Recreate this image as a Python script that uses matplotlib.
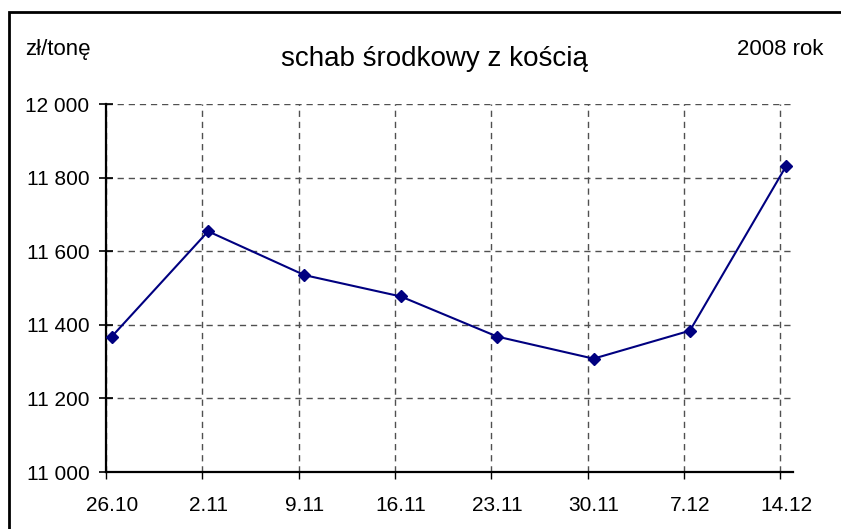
import matplotlib
matplotlib.use("Agg")
import matplotlib.pyplot as plt
from matplotlib.patches import Rectangle
import numpy as np

dates = ["26.10", "2.11", "9.11", "16.11", "23.11", "30.11", "7.12", "14.12"]
prices = [11368, 11654, 11535, 11477, 11368, 11308, 11384, 11832]
yticks = [11000, 11200, 11400, 11600, 11800, 12000]
ytick_labels = ["11 000", "11 200", "11 400", "11 600", "11 800", "12 000"]

plt.rcParams['font.family'] = ['Liberation Sans', 'DejaVu Sans']

fig = plt.figure(figsize=(8.41, 5.29), dpi=100)
W, H = 841, 529
ax = fig.add_axes([106 / W, 1 - 472 / H, (793 - 106) / W, (472 - 104) / H])

xt = np.arange(len(dates))
xp = xt + 0.06
ax.plot(xp, prices, color="#000080", lw=1.5, marker="D", ms=6.5,
        markerfacecolor="#000080", markeredgecolor="#000080", zorder=3)

ax.set_xlim(0, 7.13)
ax.set_ylim(11000, 12000)
ax.set_xticks(xt)
ax.set_xticklabels([])
ax.set_xticks(xp, minor=True)
ax.set_xticklabels(dates, minor=True, fontsize=15)
ax.set_yticks(yticks)
ax.set_yticklabels(ytick_labels, fontsize=15)

ax.grid(True, which="major", color="#505050", lw=1, linestyle=(0, (4.5, 3.5)))
ax.set_axisbelow(True)
for s in ["top", "right"]:
    ax.spines[s].set_visible(False)
for s in ["left", "bottom"]:
    ax.spines[s].set_linewidth(1.6)
    ax.spines[s].set_color("black")
ax.tick_params(axis="y", direction="inout", length=10, width=1.2, pad=7)
ax.tick_params(axis="x", which="major", direction="out", length=5, width=1.0)
ax.tick_params(axis="x", which="minor", length=0, pad=17)

fig.text(25 / W, 1 - 55 / H, "zł/tonę", fontsize=16, ha="left", va="baseline")
fig.text(434 / W, 1 - 66 / H, "schab środkowy z kością", fontsize=20, ha="center", va="baseline")
fig.text(823 / W, 1 - 55 / H, "2008 rok", fontsize=16, ha="right", va="baseline")

fig.add_artist(Rectangle((9 / W, -0.2), 1.5, 1.2 - 12 / H, transform=fig.transFigure,
                         fill=False, lw=2, edgecolor="black"))

fig.savefig("out.png", dpi=100)
